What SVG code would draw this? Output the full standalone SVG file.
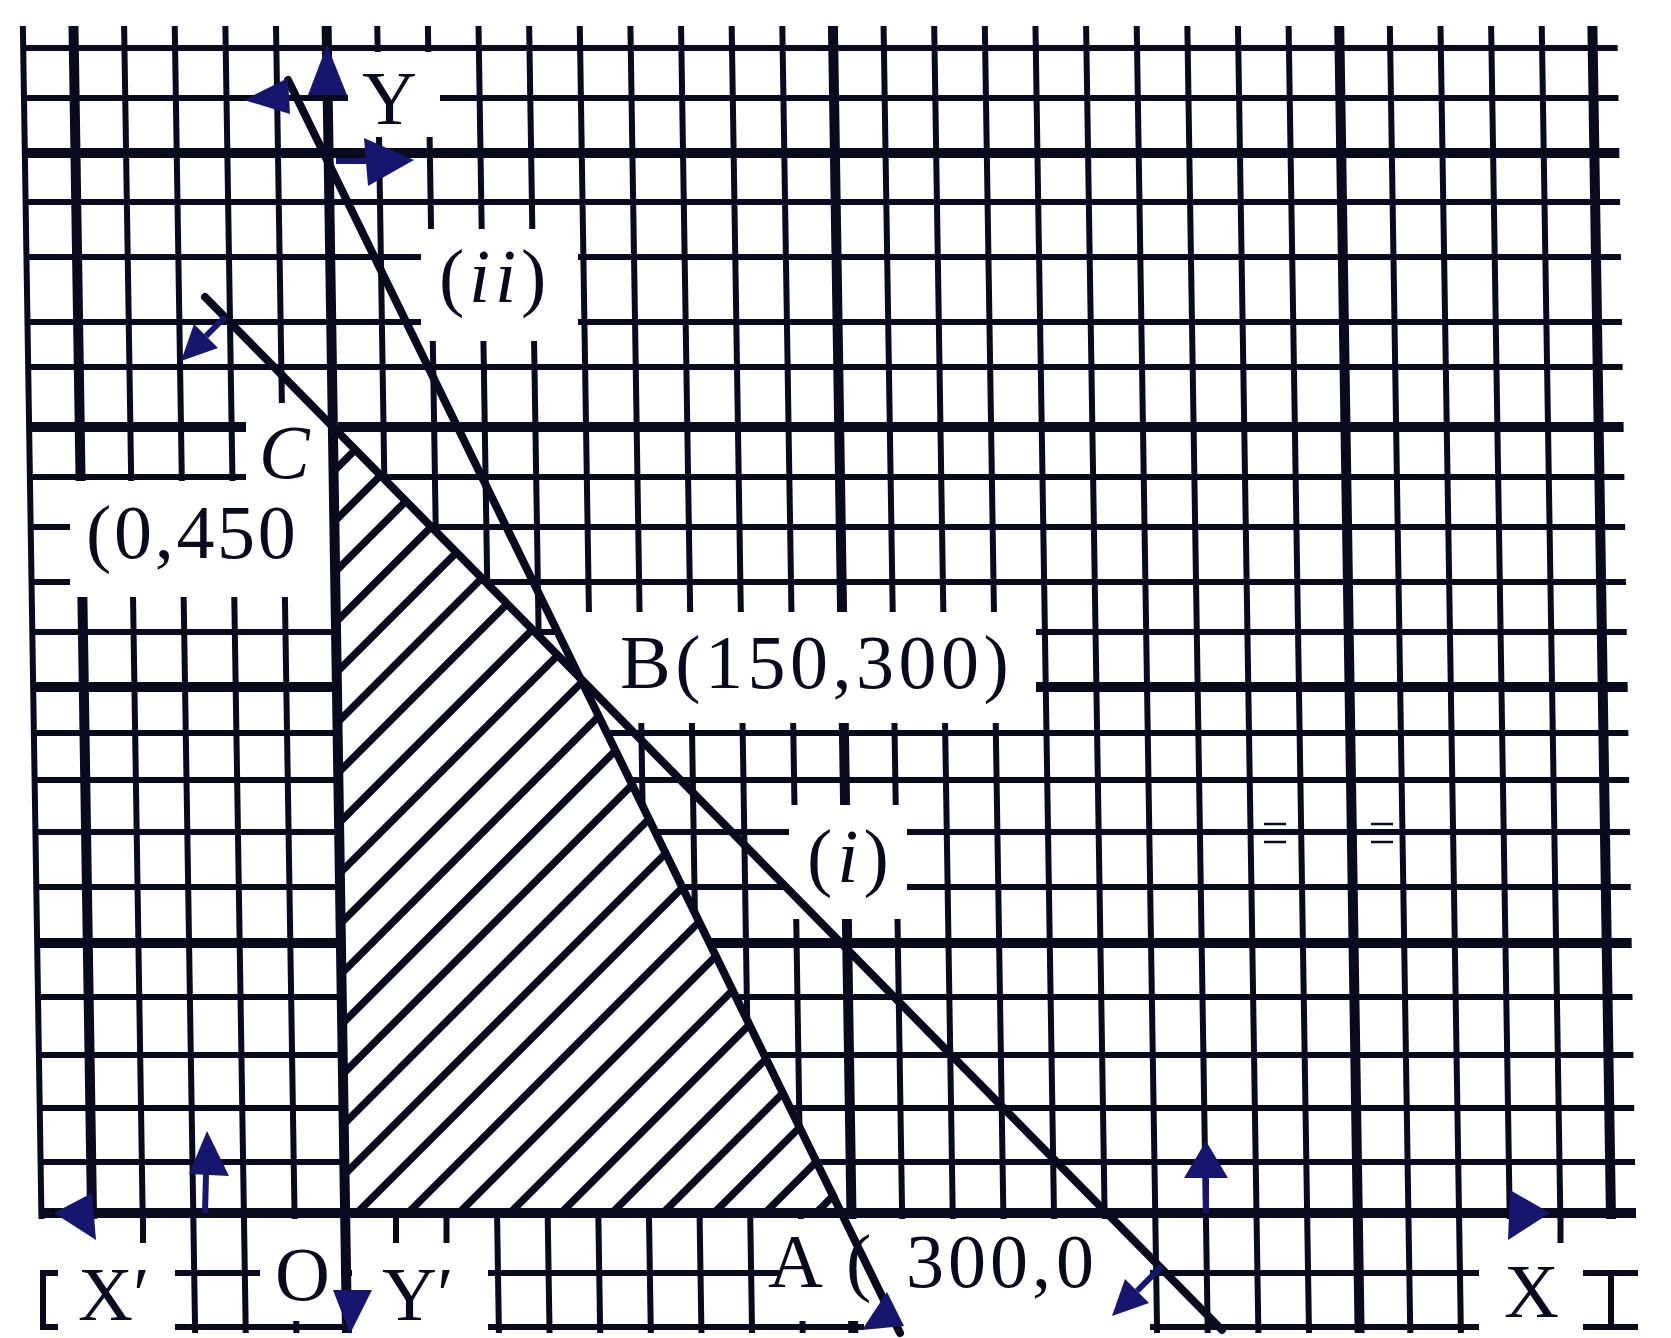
<svg xmlns="http://www.w3.org/2000/svg" width="1671" height="1338" viewBox="0 0 1671 1338">
<style>
.g{stroke:#0a0a1e;stroke-width:6;fill:none}
.t{stroke:#0a0a1e;stroke-width:10;fill:none}
.m{fill:#ffffff;stroke:none}
.h{stroke:#0a0a1e;stroke-width:7.5;fill:none}
.ln{stroke:#0a0a1e;stroke-width:8;fill:none;stroke-linecap:round}
.ar{fill:#16166e;stroke:none}
.st{stroke:#16166e;stroke-width:6;fill:none}
.thin{stroke:#0a0a1e;stroke-width:2.5;fill:none}
.lbl{font-family:"Liberation Serif","Times New Roman",serif;font-size:76px;fill:#0a0a1e}
.it{font-style:italic}
</style>
<defs>
<clipPath id="feas"><polygon points="345,1213 846,1213 583,680 333,428"/></clipPath>
</defs>
<rect width="1671" height="1338" fill="#ffffff"/>
<g id="grid" transform="matrix(1 0 0.0156 1 -14.35 0)">
<path class="g" d="M36.8 26V1333M138.06 26V1333M188.69 26V1333M239.32 26V1333M289.95 26V1333M391.21 26V1333M441.84 26V1333M492.47 26V1333M543.1 26V1333M593.73 26V1333M644.36 26V1333M694.99 26V1333M745.62 26V1333M796.25 26V1333M897.51 26V1333M948.14 26V1333M998.77 26V1333M1049.4 26V1333M1100.03 26V1333M1150.66 26V1333M1201.29 26V1333M1251.92 26V1333M1302.55 26V1333M1403.81 26V1333M1454.44 26V1333M1505.07 26V1333M1555.7 26V1333"/>
<path class="t" d="M87.43 26V1333M846.88 26V1333M1353.18 26V1333M1606.33 26V1333"/>
<path class="g" d="M36.8 48H1631.3M36.8 98H1631.3M36.8 202H1631.3M36.8 257H1631.3M36.8 322H1631.3M36.8 367H1631.3M36.8 477H1631.3M36.8 527H1631.3M36.8 582H1631.3M36.8 632H1631.3M36.8 733H1631.3M36.8 780H1631.3M36.8 832H1631.3M36.8 887H1631.3M36.8 997H1631.3M36.8 1055H1631.3M36.8 1108H1631.3M36.8 1162H1631.3M36.8 1273H1631.3M36.8 1327H1631.3"/>
<path class="t" d="M36.8 153H1631.3M36.8 427H1631.3M36.8 687H1631.3M36.8 943H1631.3"/>
</g>
<g id="label-masks">
<rect class="m" x="348" y="52" width="92" height="85"/>
<rect class="m" x="421" y="229" width="157" height="112"/>
<polygon class="m" points="246,403 338,403 338,597 70,597 70,481 246,481"/>
<polygon class="m" points="550,612 1036,612 1036,723 626,723 583,680"/>
<rect class="m" x="789" y="805" width="118" height="114"/>
<polygon class="m" points="345,1213 846,1213 583,680 333,428"/>
<rect class="m" x="28" y="1219" width="147" height="119"/>
<rect class="m" x="260" y="1219" width="81" height="102"/>
<rect class="m" x="352" y="1219" width="136" height="119"/>
<rect class="m" x="779" y="1219" width="85" height="102"/>
<rect class="m" x="864" y="1219" width="286" height="119"/>
<rect class="m" x="1479" y="1219" width="180" height="119"/>
</g>
<g id="grid-remnants">
<path class="g" d="M58 1273H43V1327H58M143 1213V1243M396 1213V1243M446.5 1213V1243M1560.5 1213V1243M1583 1273H1638M1583 1327H1638M1611 1273V1327"/>
<path class="thin" d="M1264 824H1286M1264 842H1286M1371 824H1393M1371 842H1393"/>
</g>
<g id="hatch" clip-path="url(#feas)">
<path class="h" d="M300 454L900 -146M300 505L900 -95M300 556L900 -44M300 607L900 7M300 658L900 58M300 709L900 109M300 760L900 160M300 811L900 211M300 862L900 262M300 913L900 313M300 964L900 364M300 1015L900 415M300 1066L900 466M300 1117L900 517M300 1168L900 568M300 1219L900 619M300 1270L900 670M300 1321L900 721M300 1372L900 772M300 1423L900 823M300 1474L900 874M300 1525L900 925M300 1576L900 976M300 1627L900 1027M300 1678L900 1078M300 1729L900 1129"/>
</g>
<g id="axes">
<line class="t" x1="40" y1="1213" x2="1636" y2="1213"/>
<line class="t" x1="326.6" y1="26" x2="347" y2="1333"/>
</g>
<g id="connectors">
<line id="line-i" class="ln" x1="205" y1="297" x2="1222" y2="1330"/>
<line id="line-ii" class="ln" x1="288" y1="80" x2="900" y2="1333"/>
</g>
<g id="arrows">
<polygon class="ar" points="327,45 308,95 347,95"/>
<polygon class="ar" points="244,100 288,78 290,114"/>
<polygon class="ar" points="414,160 364,138 368,186"/>
<path class="st" d="M336 161H366"/>
<polygon class="ar" points="181,361 218,348 194,324"/>
<path class="st" d="M206 336L225 317"/>
<polygon class="ar" points="1112,1316 1149,1303 1125,1279"/>
<path class="st" d="M1137 1291L1162 1266"/>
<polygon class="ar" points="862,1330 904,1326 887,1292"/>
<polygon class="ar" points="207,1131 189,1174 229,1176"/>
<path class="st" d="M206 1174L205 1213"/>
<polygon class="ar" points="1206,1141 1184,1178 1228,1178"/>
<path class="st" d="M1206 1178V1213"/>
<polygon class="ar" points="333,1290 372,1290 350,1334"/>
<polygon class="ar" points="54,1213 92,1193 96,1240"/>
<polygon class="ar" points="1550,1213 1510,1190 1508,1240"/>
</g>
<g id="labels">
<text class="lbl" x="362" y="124">Y</text>
<text class="lbl" x="439" y="302" letter-spacing="4.8">(<tspan class="it">ii</tspan>)</text>
<text class="lbl it" x="259" y="478">C</text>
<text class="lbl" x="86" y="558" letter-spacing="2.7">(0,450</text>
<text class="lbl" x="620" y="688" letter-spacing="4.5">B(150,300)</text>
<text class="lbl" x="807" y="882" letter-spacing="5">(<tspan class="it">i</tspan>)</text>
<text class="lbl" x="768 846 906 948 990 1032 1056" y="1287">A(300,0</text>
<text class="lbl" x="275" y="1300">O</text>
<text class="lbl" x="78" y="1320">X′</text>
<text class="lbl" x="382" y="1320">Y′</text>
<text class="lbl" x="1504" y="1317">X</text>
</g>
</svg>
